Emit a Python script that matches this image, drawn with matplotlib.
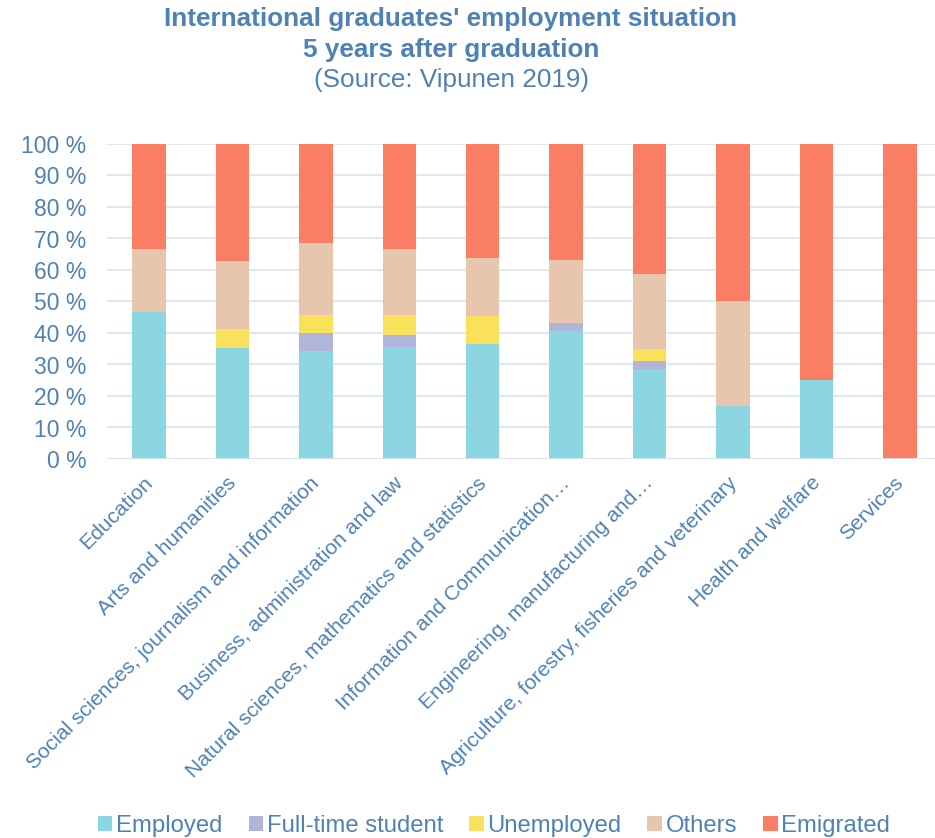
import matplotlib
matplotlib.use("Agg")
import matplotlib.pyplot as plt
from matplotlib.patches import Patch
from matplotlib.transforms import ScaledTranslation
import numpy as np

plt.rcParams['font.family'] = ['Liberation Sans', 'DejaVu Sans']

categories = [
    "Education",
    "Arts and humanities",
    "Social sciences, journalism and information",
    "Business, administration and law",
    "Natural sciences, mathematics and statistics",
    "Information and Communication…",
    "Engineering, manufacturing and…",
    "Agriculture, forestry, fisheries and veterinary",
    "Health and welfare",
    "Services",
]
series_names = ["Employed", "Full-time student", "Unemployed", "Others", "Emigrated"]
employed   = [46.7, 35.2, 34.3, 35.4, 36.4, 40.7, 28.7, 16.7, 25.0, 0.0]
student    = [0.0, 0.0, 5.7, 4.1, 0.0, 2.6, 2.5, 0.0, 0.0, 0.0]
unemployed = [0.0, 6.0, 5.7, 6.3, 9.1, 0.0, 3.7, 0.0, 0.0, 0.0]
others     = [20.0, 21.6, 22.9, 20.9, 18.2, 19.9, 23.8, 33.3, 0.0, 0.0]
emigrated  = [33.3, 37.2, 31.4, 33.3, 36.3, 36.8, 41.3, 50.0, 75.0, 100.0]
yticks = list(range(0, 101, 10))

colors = ["#8bd6e0", "#b1b5da", "#f9e15b", "#e8c6ae", "#f97e64"]
text_color = "#4f81b4"
grid_color = "#d6e2ee"

W, H = 935, 838
fig = plt.figure(figsize=(W / 100, H / 100), dpi=100)
ax = fig.add_axes([107 / W, (H - 459) / H, (935 - 107) / W, (459 - 144) / H])

x = np.arange(len(categories))
bottom = np.zeros(len(categories))
for name, vals, c in zip(series_names, [employed, student, unemployed, others, emigrated], colors):
    v = np.array(vals, dtype=float)
    ax.bar(x, v, width=0.40, bottom=bottom, color=c, edgecolor="none", zorder=3, label=name)
    bottom += v

ax.set_xlim(-0.503, 9.42)
ax.set_ylim(0, 100)
ax.set_yticks(yticks)
ax.set_yticklabels([f"{t} %" for t in yticks], color=text_color, fontsize=16.5)
ax.tick_params(axis='y', length=0, pad=15)
ax.tick_params(axis='x', length=0, pad=6)
ax.yaxis.grid(True, color=grid_color, linewidth=1.1, zorder=0)
for s in ax.spines.values():
    s.set_visible(False)
ax.axhline(0, color=grid_color, linewidth=1.3, zorder=4)

ax.set_xticks(x)
ax.set_xticklabels(categories, rotation=45, ha='right', rotation_mode='anchor',
                   color=text_color, fontsize=15.2)
offset = ScaledTranslation(-6 / 100, -6 / 100, fig.dpi_scale_trans)
for lbl in ax.get_xticklabels():
    lbl.set_transform(lbl.get_transform() + offset)

fig.text(451 / W, 1 - 19 / H, "International graduates' employment situation",
         ha='center', va='center', fontsize=18.8, fontweight='bold', color=text_color)
fig.text(451 / W, 1 - 50 / H, "5 years after graduation",
         ha='center', va='center', fontsize=18.8, fontweight='bold', color=text_color)
fig.text(451 / W, 1 - 80 / H, "(Source: Vipunen 2019)",
         ha='center', va='center', fontsize=18.8, color=text_color)

handles = [Patch(facecolor=c, edgecolor='none') for c in colors]
leg = fig.legend(handles, series_names, loc='center', bbox_to_anchor=(494 / W, 12 / H),
                 ncol=5, frameon=False, fontsize=17.2, handlelength=0.6, handleheight=0.6,
                 handletextpad=0.15, columnspacing=1.1)
for t in leg.get_texts():
    t.set_color(text_color)

fig.savefig("out.png", dpi=100)
